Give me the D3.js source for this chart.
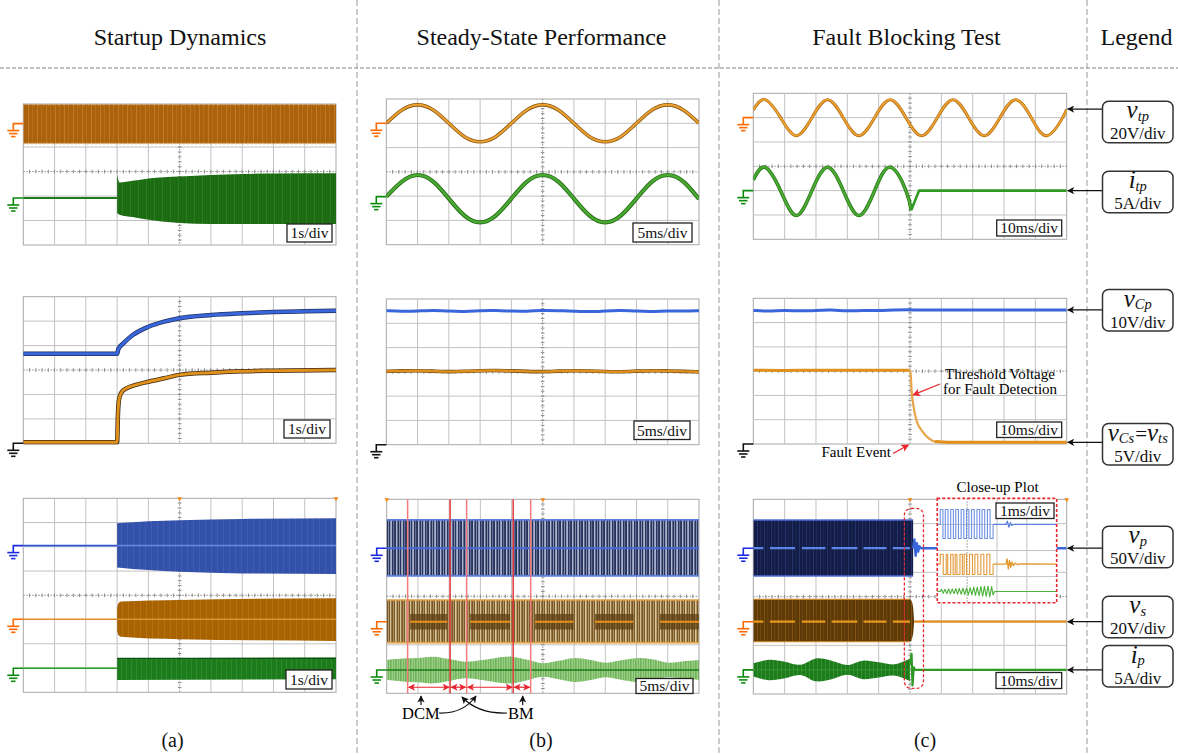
<!DOCTYPE html>
<html>
<head>
<meta charset="utf-8">
<script src="https://cdn.jsdelivr.net/npm/d3@7/dist/d3.min.js"></script>
<style>
  body { margin: 0; background: #fff; }
  svg text { font-family: "Liberation Serif", "Times New Roman", serif; }
</style>
</head>
<body>
<div id="fig"></div>
<script>
// trace values are in scope divisions: x = 0..10 across, y = divisions above the bottom edge

// ---- (a) startup dynamics ----
const a1OrangeBand = [[0, 4.15, 5.74], [10, 4.15, 5.74]];
const a1GreenFlat = [[0, 1.92], [3, 1.92]];
const a1GreenBand = [[3, 1.30, 2.89], [3.08, 1.24, 2.55], [3.5, 1.14, 2.62], [4, 1.03, 2.72], [5, 0.90, 2.80], [6, 0.86, 2.86], [8, 0.86, 2.92], [10, 0.86, 2.93]];
const a1Zero = [4.96, 1.92];

const a2Blue = [[0, 3.66], [3, 3.66], [3.04, 3.86], [3.2, 4.09], [3.5, 4.43], [4, 4.77], [4.5, 4.98], [5, 5.12], [6, 5.25], [7, 5.32], [8, 5.37], [9, 5.4], [10, 5.43]];
const a2Orange = [[0, 0.04], [3, 0.04], [3.03, 1.3], [3.07, 1.85], [3.15, 2.1], [3.3, 2.25], [3.6, 2.39], [4, 2.52], [4.5, 2.66], [5, 2.8], [6, 2.89], [7, 2.95], [8, 2.97], [10, 3.0]];

const a3Zero = [6.05, 3.01, 0.99];
const a3BlueBand = [[3, 5.15, 6.97], [4, 5.04, 7.05], [5, 4.97, 7.1], [7, 4.9, 7.15], [10, 4.88, 7.18]];
const a3OrangeBand = [[3, 2.55, 3.47], [3.03, 2.38, 3.64], [3.12, 2.29, 3.74], [5, 2.19, 3.81], [10, 2.12, 3.88]];
const a3GreenBand = [[3, 0.51, 1.4], [10, 0.54, 1.44]];

// ---- (b) steady state ----
const bTime = [0, 0.5, 1, 1.5, 2, 2.5, 3, 3.5, 4, 4.5, 5, 5.5, 6, 6.5, 7, 7.5, 8, 8.5, 9, 9.5, 10];
const b1Orange = [5.0, 5.55, 5.76, 5.55, 5.0, 4.45, 4.24, 4.45, 5.0, 5.55, 5.76, 5.55, 5.0, 4.45, 4.24, 4.45, 5.0, 5.55, 5.76, 5.55, 5.0];
const b1Green = [1.98, 2.6, 2.87, 2.6, 1.9, 1.2, 0.92, 1.2, 1.9, 2.6, 2.87, 2.6, 1.9, 1.2, 0.92, 1.2, 1.9, 2.6, 2.87, 2.6, 1.88];
const b1Zero = [5.0, 1.98];
const b2Blue = [5.52, 5.49, 5.5, 5.54, 5.5, 5.48, 5.52, 5.53, 5.5, 5.49, 5.54, 5.52, 5.5, 5.47, 5.51, 5.53, 5.5, 5.48, 5.52, 5.5, 5.52];
const b2Orange = [3.02, 3.04, 3.05, 3.03, 3.0, 3.02, 3.05, 3.06, 3.04, 3.02, 3.0, 3.03, 3.05, 3.04, 3.01, 3.0, 3.03, 3.05, 3.04, 3.02, 3.0];
const b3BlueLevels = [4.84, 5.98, 7.15];
const b3OrangeLevels = [2.09, 2.95, 3.85];
const b3BurstSpans = [[0.75, 1.94], [2.67, 3.95], [4.75, 5.98], [6.67, 7.9], [8.75, 10]];
const b3GreenMid = 0.96;
const b3GreenAmp = [0.41, 0.47, 0.5, 0.55, 0.45, 0.34, 0.4, 0.5, 0.55, 0.42, 0.28, 0.38, 0.49, 0.42, 0.3, 0.4, 0.49, 0.44, 0.3, 0.36, 0.41];
const b3RedLines = [0.67, 2.03, 2.56, 4.05, 4.61];
const b3ModeSpans = [[0.67, 2.03], [2.03, 2.56], [2.56, 4.05], [4.05, 4.61]];

// ---- (c) fault blocking ----
const c1Orange = [[0, 5.31], [0.37, 5.74], [0.87, 5.0], [1.37, 4.26], [1.87, 5.0], [2.37, 5.74], [2.87, 5.0], [3.37, 4.26], [3.87, 5.0], [4.37, 5.74], [4.87, 5.0], [5.37, 4.26], [5.87, 5.0], [6.37, 5.74], [6.87, 5.0], [7.37, 4.26], [7.87, 5.0], [8.37, 5.74], [8.87, 5.0], [9.37, 4.26], [9.87, 5.0], [10, 5.35]];
const c1GreenAc = [[0, 2.44], [0.37, 2.96], [0.87, 2.0], [1.37, 0.98], [1.87, 2.0], [2.37, 2.96], [2.87, 2.0], [3.37, 0.98], [3.87, 2.0], [4.37, 2.96], [4.87, 2.0], [5.04, 1.2]];
const c1GreenOff = [[5.04, 1.2], [5.29, 2.0], [10, 2.0]];
const c1Zero = [5.0, 2.0];
const c2Blue = [[0, 5.5], [0.5, 5.46], [1, 5.52], [1.5, 5.47], [2, 5.5], [2.5, 5.53], [3, 5.47], [3.5, 5.51], [4, 5.48], [4.5, 5.53], [5, 5.52], [10, 5.52]];
const c2Orange = [[0, 3.04], [1, 3.02], [2, 3.05], [3, 3.03], [4, 3.04], [4.98, 3.04], [5.02, 2.9], [5.05, 2.2], [5.1, 1.65], [5.2, 1.0], [5.4, 0.51], [5.6, 0.23], [5.8, 0.1], [6.2, 0.07], [10, 0.07]];
const c3BlueLevels = [4.85, 5.99, 7.15];
const c3BlueRing = [[5.1, 5.99], [5.14, 6.35], [5.18, 5.68], [5.22, 6.2], [5.26, 5.85], [5.3, 6.07], [5.35, 5.99], [10, 5.99]];
const c3OrangeBand = [[0, 2.15, 3.89], [5.0, 2.15, 3.89], [5.07, 2.3, 3.75], [5.11, 2.6, 3.4], [5.13, 2.97, 2.97]];
const c3OrangeMid = 2.97;
const c3CenterDashes = [[0, 0.32], [0.53, 1.33], [1.55, 2.3], [2.5, 3.32], [3.52, 4.25], [4.45, 5.0]];
const c3GreenMid = 0.99;
const c3GreenTime = [0, 0.5, 1, 1.5, 2, 2.5, 3, 3.5, 4, 4.5, 5];
const c3GreenAmp = [0.27, 0.42, 0.34, 0.21, 0.47, 0.38, 0.2, 0.38, 0.31, 0.23, 0.46];
const c3GreenTail = [[5.0, 1.2], [5.05, 1.65], [5.08, 0.35], [5.12, 1.1], [5.16, 0.99], [10, 0.99]];
const c3FaultWindow = [4.82, 5.43, 0.23, 7.63];
const c3InsetArea = [5.87, 9.68, 3.75, 8.04];

// close-up inset (1ms/div, x 0..4, y 0..4)
const insBlueLevels = [2.46, 3.0, 3.57];
const insBlueEdges = [0.1, 0.19, 0.27, 0.36, 0.45, 0.54, 0.62, 0.71, 0.8, 0.89, 0.98, 1.06, 1.15, 1.24, 1.33, 1.42, 1.5, 1.59, 1.68, 1.77, 1.87];
const insBlueRing = [[1.87, 3.0], [2.3, 3.0], [2.35, 3.12], [2.4, 2.9], [2.45, 3.07], [2.5, 2.96], [2.55, 3.0], [4, 3.0]];
const insOrangeLevels = [1.08, 1.48, 1.86];
const insOrangeEdges = [0.1, 0.2, 0.3, 0.35, 0.45, 0.53, 0.6, 0.66, 0.76, 0.84, 0.9, 0.98, 1.08, 1.18, 1.26, 1.36, 1.46, 1.56, 1.66, 1.76, 1.87];
const insOrangeRing = [[1.87, 1.48], [2.3, 1.48], [2.34, 1.68], [2.38, 1.3], [2.42, 1.62], [2.46, 1.36], [2.5, 1.56], [2.55, 1.42], [2.6, 1.52], [2.7, 1.46], [2.8, 1.49], [4, 1.48]];
const insGreen = [[0, 0.43], [0.1, 0.43], [0.14, 0.52], [0.2, 0.36], [0.26, 0.52], [0.32, 0.35], [0.38, 0.53], [0.44, 0.34], [0.5, 0.53], [0.56, 0.35], [0.62, 0.54], [0.68, 0.33], [0.74, 0.55], [0.8, 0.32], [0.86, 0.56], [0.92, 0.31], [0.98, 0.56], [1.04, 0.3], [1.1, 0.58], [1.16, 0.3], [1.22, 0.6], [1.28, 0.28], [1.34, 0.6], [1.4, 0.27], [1.46, 0.62], [1.52, 0.25], [1.58, 0.63], [1.64, 0.24], [1.7, 0.64], [1.76, 0.22], [1.82, 0.62], [1.87, 0.3], [1.92, 0.43], [4, 0.43]];

// ---- text ----
const titles = ['Startup Dynamics', 'Steady-State Performance', 'Fault Blocking Test', 'Legend'];
const subLabels = ['(a)', '(b)', '(c)'];
const divLabels = ['1s/div', '5ms/div', '10ms/div'];
const legendSymbols = [
  [['v', 'm'], ['tp', 's']],
  [['i', 'm'], ['tp', 's']],
  [['v', 'm'], ['Cp', 's']],
  [['v', 'm'], ['Cs', 's'], ['=', 'n'], ['v', 'm'], ['ts', 's']],
  [['v', 'm'], ['p', 's']],
  [['v', 'm'], ['s', 's']],
  [['i', 'm'], ['p', 's']]
];
const legendUnits = ['20V/div', '5A/div', '10V/div', '5V/div', '50V/div', '20V/div', '5A/div'];

// ---- layout ----
const layout = {
  a1: { id: 'a1', left: 23.3, right: 336, top: 104, bottom: 245, rows: 5.76, mid: 3 },
  a2: { id: 'a2', left: 23.3, right: 336, top: 296.7, bottom: 443.3, rows: 6, mid: 3 },
  a3: { id: 'a3', left: 23.3, right: 336, top: 498.3, bottom: 692.3, rows: 8, mid: 4 },
  b1: { id: 'b1', left: 386.3, right: 699, top: 99, bottom: 244.7, rows: 6, mid: 3 },
  b2: { id: 'b2', left: 386.3, right: 699, top: 299, bottom: 444.7, rows: 6, mid: 3 },
  b3: { id: 'b3', left: 386.7, right: 699, top: 499.3, bottom: 693.3, rows: 8, mid: 4 },
  c1: { id: 'c1', left: 753.3, right: 1066.7, top: 93.3, bottom: 239.3, rows: 6, mid: 3 },
  c2: { id: 'c2', left: 753.3, right: 1066.7, top: 298.3, bottom: 444, rows: 6, mid: 3 },
  c3: { id: 'c3', left: 753.3, right: 1066.7, top: 499.3, bottom: 694, rows: 8, mid: 4 }
};
const divBoxes = {
  a1: [287, 224, 45, 18], a2: [284, 420, 46, 18], a3: [286, 670, 46, 19],
  b1: [633, 223, 59, 19], b2: [634, 421, 56, 18.5], b3: [636, 678.5, 57, 15],
  c1: [996.7, 220, 65, 16], c2: [996.7, 422, 65, 15.5], c3: [996, 672.5, 65.7, 16]
};
const legendTops = [101.2, 171.2, 289.5, 423.5, 526.2, 596.2, 645.5];

const svg = d3.select('#fig').append('svg').attr('width', 1178).attr('height', 754);
const defs = svg.append('defs');

function stripes(id, base, light, w, lines) {
  const p = defs.append('pattern').attr('id', id)
    .attr('patternUnits', 'userSpaceOnUse').attr('width', w).attr('height', 8);
  p.append('rect').attr('width', w).attr('height', 8).attr('fill', base);
  lines.forEach(function(l) {
    p.append('rect').attr('x', l[0]).attr('width', l[1]).attr('height', 8)
      .attr('fill', light).attr('opacity', l[2]);
  });
}
stripes('a1o', '#ac620c', '#dc9d50', 9, [[1, 0.8, 0.5], [5, 0.6, 0.35]]);
stripes('a1g', '#1c6b12', '#3a9a2c', 8, [[2, 0.8, 0.5], [6, 0.5, 0.3]]);
stripes('a3b', '#3351a8', '#4a6ac8', 6, [[1, 1, 0.5]]);
stripes('a3o', '#a86200', '#c98a30', 6, [[2, 1, 0.4]]);
stripes('a3g', '#1d7a1d', '#3aa030', 5, [[1, 1, 0.5]]);
stripes('b3b', '#27345e', '#c8d0e6', 11, [[0, 1.4, 0.85], [3, 0.8, 0.7], [5.2, 1.8, 0.8], [8.4, 0.7, 0.6]]);
stripes('b3o', '#7a5826', '#ecdcb4', 10, [[0, 1.3, 0.8], [3.2, 0.7, 0.6], [5, 1.6, 0.85], [8, 0.8, 0.6]]);
stripes('b3g', '#9ccf86', '#2c8a1e', 5, [[0.5, 0.8, 0.8], [3, 0.6, 0.6]]);
stripes('c3b', '#131c46', '#3a4d92', 7, [[1, 0.8, 0.6], [4.5, 0.6, 0.4]]);
stripes('c3o', '#5c3906', '#a8701e', 7, [[1, 0.8, 0.6], [4.5, 0.6, 0.4]]);
stripes('c3g', '#1d7a1d', '#46a838', 4, [[1, 0.9, 0.6]]);

function marker(id, color) {
  defs.append('marker').attr('id', id)
    .attr('viewBox', '0 0 10 10').attr('refX', 9).attr('refY', 5)
    .attr('markerWidth', 8).attr('markerHeight', 6).attr('orient', 'auto')
    .append('path').attr('d', 'M0,0 L10,5 L0,10 L2.5,5 z').attr('fill', color);
}
marker('ahk', '#111');
marker('ahr', '#e8262e');

// separators
[357, 719, 1087].forEach(function(x) {
  svg.append('line').attr('x1', x).attr('x2', x).attr('y1', 0).attr('y2', 754)
    .attr('stroke', '#9b9b9b').attr('stroke-width', 1).attr('stroke-dasharray', '6,3');
});
svg.append('line').attr('x1', 0).attr('x2', 1178).attr('y1', 68).attr('y2', 68)
  .attr('stroke', '#aaa').attr('stroke-width', 1.6).attr('stroke-dasharray', '4,2');

svg.selectAll('.title').data(titles).enter().append('text')
  .attr('x', function(d, i) { return [180, 541.5, 906.5, 1136.5][i]; })
  .attr('y', 45).attr('text-anchor', 'middle').attr('font-size', 24).attr('fill', '#111')
  .text(function(d) { return d; });
svg.selectAll('.sub').data(subLabels).enter().append('text')
  .attr('x', function(d, i) { return [172.5, 541, 925][i]; })
  .attr('y', 747).attr('text-anchor', 'middle').attr('font-size', 20).attr('fill', '#111')
  .text(function(d) { return d; });

function panel(p) {
  const x = d3.scaleLinear().domain([0, 10]).range([p.left, p.right]);
  const y = d3.scaleLinear().domain([0, p.rows]).range([p.bottom, p.top]);
  const g = svg.append('g');
  defs.append('clipPath').attr('id', 'clip-' + p.id).append('rect')
    .attr('x', p.left).attr('y', p.top - 1.5)
    .attr('width', p.right - p.left).attr('height', p.bottom - p.top + 3);
  g.append('rect').attr('x', p.left).attr('y', p.top)
    .attr('width', p.right - p.left).attr('height', p.bottom - p.top)
    .attr('fill', '#fff').attr('stroke', '#a8a8a8').attr('stroke-width', 1);
  const grid = g.append('g').attr('stroke', '#c2c2c2').attr('stroke-width', 1);
  grid.selectAll('.v').data([1, 2, 3, 4, 6, 7, 8, 9]).enter().append('line')
    .attr('x1', x).attr('x2', x).attr('y1', p.top).attr('y2', p.bottom);
  grid.selectAll('.h').data(d3.range(1, Math.ceil(p.rows)).filter(function(r) { return r !== p.mid; }))
    .enter().append('line')
    .attr('x1', p.left).attr('x2', p.right).attr('y1', y).attr('y2', y);
  // centre cross, dotted with minor ticks
  const cc = g.append('g').attr('stroke', '#8c8c8c').attr('stroke-width', 1);
  cc.append('line').attr('x1', x(5)).attr('x2', x(5)).attr('y1', p.top).attr('y2', p.bottom)
    .attr('stroke-dasharray', '1.5,1.5');
  cc.append('line').attr('x1', p.left).attr('x2', p.right).attr('y1', y(p.mid)).attr('y2', y(p.mid))
    .attr('stroke-dasharray', '1.5,1.5');
  cc.selectAll('.tx').data(d3.range(0.2, 10, 0.2)).enter().append('line')
    .attr('x1', x).attr('x2', x).attr('y1', y(p.mid) - 1.8).attr('y2', y(p.mid) + 1.8);
  cc.selectAll('.ty').data(d3.range(0.2, p.rows, 0.2)).enter().append('line')
    .attr('y1', y).attr('y2', y).attr('x1', x(5) - 1.8).attr('x2', x(5) + 1.8);
  const t = g.append('g').attr('clip-path', 'url(#clip-' + p.id + ')');
  return { x: x, y: y, g: g, t: t, p: p };
}

function trace(P, pts, color, w, curve, parent) {
  return (parent || P.t).append('path').datum(pts)
    .attr('d', d3.line().x(function(d) { return P.x(d[0]); }).y(function(d) { return P.y(d[1]); })
      .curve(curve || d3.curveLinear))
    .attr('fill', 'none').attr('stroke', color).attr('stroke-width', w)
    .attr('stroke-linejoin', 'round');
}
function band(P, pts, fill, curve) {
  return P.t.append('path').datum(pts)
    .attr('d', d3.area().x(function(d) { return P.x(d[0]); })
      .y0(function(d) { return P.y(d[1]); }).y1(function(d) { return P.y(d[2]); })
      .curve(curve || d3.curveLinear))
    .attr('fill', fill);
}
function hline(P, x0, x1, v, color, w, dash) {
  return P.t.append('line').attr('x1', P.x(x0)).attr('x2', P.x(x1)).attr('y1', P.y(v)).attr('y2', P.y(v))
    .attr('stroke', color).attr('stroke-width', w).attr('stroke-dasharray', dash || null);
}
function ground(P, level, color) {
  const yy = P.y(level), x0 = P.x(0), sx = x0 - 10;
  const gg = P.g.append('g').attr('stroke', color).attr('stroke-width', 1.6).attr('fill', 'none');
  gg.append('path').attr('d', 'M' + x0 + ',' + yy + 'H' + sx + 'V' + (yy + 7));
  [[7, 6], [10, 4.2], [13, 2.2]].forEach(function(b) {
    gg.append('line').attr('x1', sx - b[1]).attr('x2', sx + b[1]).attr('y1', yy + b[0]).attr('y2', yy + b[0]);
  });
}
function divBox(r, label) {
  svg.append('rect').attr('x', r[0]).attr('y', r[1]).attr('width', r[2]).attr('height', r[3])
    .attr('fill', '#fff').attr('stroke', '#222').attr('stroke-width', 1.3);
  svg.append('text').attr('x', r[0] + r[2] / 2).attr('y', r[1] + r[3] / 2 + 5.3)
    .attr('text-anchor', 'middle').attr('font-size', 15.5).attr('fill', '#111').text(label);
}
function trigger(P, xs) {
  P.g.selectAll('.trig').data(xs).enter().append('path')
    .attr('d', function(d) { const cx = P.x(d), ty = P.p.top; return 'M' + (cx - 2.5) + ',' + (ty - 1) + 'L' + (cx + 2.5) + ',' + (ty - 1) + 'L' + cx + ',' + (ty + 3) + 'Z'; })
    .attr('fill', '#f08a1a');
}
function zip(xs, ys) { return xs.map(function(x, i) { return [x, ys[i]]; }); }

const ORANGE_G = '#ff6a00', GREEN_G = '#0a8a0a', BLUE_G = '#1a2ae0';

// ---------- (a) ----------
let P = panel(layout.a1);
band(P, a1OrangeBand, 'url(#a1o)');
hline(P, 0, 10, a1OrangeBand[0][1], '#e2a868', 2, '1,3');
hline(P, 0, 10, a1OrangeBand[0][2], '#e2a868', 2, '1,4');
trace(P, a1GreenFlat, '#1f7a1a', 2);
band(P, a1GreenBand, 'url(#a1g)', d3.curveMonotoneX);
ground(P, a1Zero[0], ORANGE_G);
ground(P, a1Zero[1], GREEN_G);
divBox(divBoxes.a1, divLabels[0]);

P = panel(layout.a2);
trace(P, a2Blue, '#1f2f60', 4.5, d3.curveMonotoneX);
trace(P, a2Blue, '#3a66dc', 3, d3.curveMonotoneX);
trace(P, a2Orange, '#3a2a10', 4.5, d3.curveMonotoneX);
trace(P, a2Orange, '#e0901c', 3, d3.curveMonotoneX);
ground(P, 0, '#111');
divBox(divBoxes.a2, divLabels[0]);

P = panel(layout.a3);
trace(P, [[0, a3Zero[0]], [3, a3Zero[0]]], '#2f52d0', 1.6);
band(P, a3BlueBand, 'url(#a3b)', d3.curveMonotoneX);
hline(P, 3, 10, a3Zero[0], '#6a88e0', 1.5);
trace(P, [[0, a3Zero[1]], [3, a3Zero[1]]], '#e0902a', 1.6);
band(P, a3OrangeBand, 'url(#a3o)', d3.curveMonotoneX);
hline(P, 3, 10, a3Zero[1], '#d8923a', 1.5);
trace(P, [[0, a3Zero[2]], [3, a3Zero[2]]], '#22a022', 1.6);
band(P, a3GreenBand, 'url(#a3g)');
hline(P, 3, 10, a3GreenBand[0][2], '#0f4f10', 1.2);
trigger(P, [5, 10]);
ground(P, a3Zero[0], BLUE_G);
ground(P, a3Zero[1], ORANGE_G);
ground(P, a3Zero[2], GREEN_G);
divBox(divBoxes.a3, divLabels[0]);

// ---------- (b) ----------
P = panel(layout.b1);
trace(P, zip(bTime, b1Orange), '#8a5a14', 3.6, d3.curveNatural);
trace(P, zip(bTime, b1Orange), '#eba030', 2, d3.curveNatural);
trace(P, zip(bTime, b1Green), '#2a6e1a', 4.2, d3.curveNatural);
trace(P, zip(bTime, b1Green), '#48aa30', 2.4, d3.curveNatural);
ground(P, b1Zero[0], ORANGE_G);
ground(P, b1Zero[1], GREEN_G);
divBox(divBoxes.b1, divLabels[1]);

P = panel(layout.b2);
trace(P, zip(bTime, b2Blue), '#3a66dc', 3, d3.curveBasis);
trace(P, zip(bTime, b2Orange), '#6a4a18', 3.6, d3.curveBasis);
trace(P, zip(bTime, b2Orange), '#e0901c', 2.4, d3.curveBasis);
ground(P, 0, '#111');
divBox(divBoxes.b2, divLabels[1]);

P = panel(layout.b3);
band(P, [[0, b3BlueLevels[0], b3BlueLevels[2]], [10, b3BlueLevels[0], b3BlueLevels[2]]], 'url(#b3b)');
hline(P, 0, 10, b3BlueLevels[0], '#5c7ee0', 1.8);
hline(P, 0, 10, b3BlueLevels[2], '#5c7ee0', 1.8);
hline(P, 0, 10, b3BlueLevels[1], '#4a6ad8', 2);
band(P, [[0, b3OrangeLevels[0], b3OrangeLevels[2]], [10, b3OrangeLevels[0], b3OrangeLevels[2]]], 'url(#b3o)');
hline(P, 0, 10, b3OrangeLevels[0], '#e0a040', 1.6);
hline(P, 0, 10, b3OrangeLevels[2], '#e0a040', 1.6);
b3BurstSpans.forEach(function(s) {
  P.t.append('rect').attr('x', P.x(s[0])).attr('width', P.x(s[1]) - P.x(s[0]))
    .attr('y', P.y(b3OrangeLevels[1] + 0.32)).attr('height', P.y(b3OrangeLevels[1] - 0.32) - P.y(b3OrangeLevels[1] + 0.32))
    .attr('fill', '#5a3a10').attr('opacity', 0.7);
  hline(P, s[0], s[1], b3OrangeLevels[1], '#e8921c', 2.2);
});
const b3Green = bTime.map(function(t, i) { return [t, b3GreenMid - b3GreenAmp[i], b3GreenMid + b3GreenAmp[i]]; });
band(P, b3Green, 'url(#b3g)', d3.curveCatmullRom);
hline(P, 0, 10, b3GreenMid, '#1e7a18', 1.6);
trigger(P, [0, 5]);
ground(P, b3BlueLevels[1], BLUE_G);
ground(P, b3OrangeLevels[1], ORANGE_G);
ground(P, b3GreenMid, GREEN_G);
divBox(divBoxes.b3, divLabels[1]);
// mode boundaries and spans
P.g.selectAll('.red').data(b3RedLines).enter().append('line')
  .attr('x1', P.x).attr('x2', P.x).attr('y1', P.p.top).attr('y2', P.p.bottom)
  .attr('stroke', function(d, i) { return i % 2 ? '#e23a3a' : '#f37b7b'; }).attr('stroke-width', 1.5);
P.g.selectAll('.span').data(b3ModeSpans).enter().append('line')
  .attr('x1', function(d) { return P.x(d[0]) + 1; }).attr('x2', function(d) { return P.x(d[1]) - 1; })
  .attr('y1', P.y(0.25)).attr('y2', P.y(0.25))
  .attr('stroke', '#e8262e').attr('stroke-width', 1.2)
  .attr('marker-start', 'url(#ahr)').attr('marker-end', 'url(#ahr)');
defs.select('#ahr').attr('orient', 'auto-start-reverse');
const ann = svg.append('g').attr('fill', 'none').attr('stroke', '#111').attr('stroke-width', 1.2);
ann.append('path').attr('d', 'M421,705 V696').attr('marker-end', 'url(#ahk)');
ann.append('path').attr('d', 'M522.7,705 V696').attr('marker-end', 'url(#ahk)');
ann.append('path').attr('d', 'M439,713 Q463,714 476,696').attr('marker-end', 'url(#ahk)');
ann.append('path').attr('d', 'M507,713 Q478,714 462,697').attr('marker-end', 'url(#ahk)');
svg.append('text').attr('x', 420.8).attr('y', 718.5).attr('text-anchor', 'middle').attr('font-size', 16.5).text('DCM');
svg.append('text').attr('x', 520.8).attr('y', 718.5).attr('text-anchor', 'middle').attr('font-size', 16.5).text('BM');

// ---------- (c) ----------
const C = {};
P = panel(layout.c1); C.c1 = P;
trace(P, c1Orange, '#b06a10', 3, d3.curveNatural);
trace(P, c1Orange, '#eda232', 1.8, d3.curveNatural);
trace(P, c1GreenAc, '#2a7a1a', 3.6, d3.curveNatural);
trace(P, c1GreenAc, '#4aaa32', 2, d3.curveNatural);
trace(P, c1GreenOff, '#2e9a22', 2.6);
ground(P, c1Zero[0], ORANGE_G);
ground(P, c1Zero[1], GREEN_G);
divBox(divBoxes.c1, divLabels[2]);

P = panel(layout.c2); C.c2 = P;
trace(P, c2Blue, '#3a66dc', 3, d3.curveBasis);
trace(P, c2Orange.slice(0, 6), '#e0901c', 3, d3.curveBasis);
trace(P, c2Orange.slice(5), '#e8a448', 2.2, d3.curveMonotoneX);
trace(P, c2Orange.slice(12), '#e0901c', 3);
ground(P, 0, '#111');
divBox(divBoxes.c2, divLabels[2]);
svg.append('text').attr('x', 1000).attr('y', 378.5).attr('text-anchor', 'middle').attr('font-size', 15).text('Threshold Voltage');
svg.append('text').attr('x', 1000).attr('y', 393.5).attr('text-anchor', 'middle').attr('font-size', 15).text('for Fault Detection');
svg.append('text').attr('x', 891).attr('y', 457).attr('text-anchor', 'end').attr('font-size', 15).text('Fault Event');
const red = svg.append('g').attr('fill', 'none').attr('stroke', '#e8262e').attr('stroke-width', 1.3);
red.append('path').attr('d', 'M940,384 L' + P.x(5.1) + ',' + P.y(2.02)).attr('marker-end', 'url(#ahr)');
red.append('path').attr('d', 'M893,453.5 L' + P.x(4.95) + ',' + (P.y(0) + 1)).attr('marker-end', 'url(#ahr)');

P = panel(layout.c3); C.c3 = P;
band(P, [[0, c3BlueLevels[0], c3BlueLevels[2]], [5.1, c3BlueLevels[0], c3BlueLevels[2]]], 'url(#c3b)');
hline(P, 0, 5.1, c3BlueLevels[0], '#4d6fd8', 1.4);
hline(P, 0, 5.1, c3BlueLevels[2], '#4d6fd8', 1.4);
trace(P, c3BlueRing, '#3a66dc', 2.4);
band(P, c3OrangeBand, 'url(#c3o)', d3.curveMonotoneX);
hline(P, 0, 5.0, c3OrangeBand[0][1], '#c8842a', 1.4);
hline(P, 0, 5.0, c3OrangeBand[0][2], '#c8842a', 1.4);
hline(P, 5.13, 10, c3OrangeMid, '#e0901c', 2.2);
c3CenterDashes.forEach(function(s) {
  hline(P, s[0], s[1], c3BlueLevels[1], '#5b86e8', 2.2);
  hline(P, s[0], s[1], c3OrangeMid, '#e8981e', 2.2);
});
const c3Green = c3GreenTime.map(function(t, i) { return [t, c3GreenMid - c3GreenAmp[i], c3GreenMid + c3GreenAmp[i]]; });
band(P, c3Green, 'url(#c3g)', d3.curveCatmullRom);
hline(P, 0, 5.0, c3GreenMid, '#3aa02e', 1.4, '2,1');
trace(P, c3GreenTail, '#2e9a22', 2.2);
trigger(P, [5, 10]);
ground(P, c3BlueLevels[1], BLUE_G);
ground(P, c3OrangeMid, ORANGE_G);
ground(P, c3GreenMid, GREEN_G);
divBox(divBoxes.c3, divLabels[2]);

// fault window and close-up inset
const fw = c3FaultWindow;
svg.append('rect').attr('x', P.x(fw[0])).attr('y', P.y(fw[3]))
  .attr('width', P.x(fw[1]) - P.x(fw[0])).attr('height', P.y(fw[2]) - P.y(fw[3]))
  .attr('rx', 7).attr('fill', 'none').attr('stroke', '#e8262e').attr('stroke-width', 1.3).attr('stroke-dasharray', '3,2');
red.append('path').attr('d', 'M926.7,538.5 L' + (P.x(c3InsetArea[0]) - 0.5) + ',530').attr('marker-end', 'url(#ahr)');

const ia = c3InsetArea;
const I = {
  x: d3.scaleLinear().domain([0, 4]).range([P.x(ia[0]), P.x(ia[1])]),
  y: d3.scaleLinear().domain([0, 4]).range([P.y(ia[2]), P.y(ia[3])])
};
I.t = svg.append('g');
I.t.append('rect').attr('x', I.x(0)).attr('y', I.y(4)).attr('width', I.x(4) - I.x(0)).attr('height', I.y(0) - I.y(4)).attr('fill', '#fff');
I.t.selectAll('.iv').data([1, 2, 3]).enter().append('line')
  .attr('x1', I.x).attr('x2', I.x).attr('y1', I.y(4)).attr('y2', I.y(0))
  .attr('stroke', function(d) { return d === 1 ? '#8c8c8c' : '#c2c2c2'; })
  .attr('stroke-dasharray', function(d) { return d === 1 ? '1.5,1.5' : null; });
I.t.selectAll('.ih').data([1, 2, 3]).enter().append('line')
  .attr('y1', I.y).attr('y2', I.y).attr('x1', I.x(0)).attr('x2', I.x(4)).attr('stroke', '#c2c2c2');
function squarePts(edges, levels) {
  const pts = [[0, levels[1]]];
  edges.forEach(function(e, i) {
    const last = i === edges.length - 1;
    pts.push([e, last ? levels[1] : (i % 2 === 0 ? levels[2] : levels[0])]);
  });
  return pts;
}
trace(I, squarePts(insBlueEdges, insBlueLevels), '#6f8fe0', 1.1, d3.curveStepAfter, I.t);
trace(I, insBlueRing, '#5a7ee0', 1.3, d3.curveLinear, I.t);
trace(I, squarePts(insOrangeEdges, insOrangeLevels), '#e29a3a', 1.1, d3.curveStepAfter, I.t);
trace(I, insOrangeRing, '#e0962c', 1.3, d3.curveLinear, I.t);
trace(I, insGreen, '#4cb23a', 1.1, d3.curveLinear, I.t);
I.t.append('rect').attr('x', I.x(0)).attr('y', I.y(4)).attr('width', I.x(4) - I.x(0)).attr('height', I.y(0) - I.y(4))
  .attr('fill', 'none').attr('stroke', '#e8262e').attr('stroke-width', 1.6).attr('stroke-dasharray', '3,2');
divBox([996, 503, 58, 15.5], '1ms/div');
svg.append('text').attr('x', 997.5).attr('y', 492).attr('text-anchor', 'middle').attr('font-size', 15).text('Close-up Plot');

// ---------- legend ----------
const legendTargets = [
  [C.c1, c1Orange[c1Orange.length - 1][1]],
  [C.c1, c1GreenOff[c1GreenOff.length - 1][1]],
  [C.c2, c2Blue[c2Blue.length - 1][1]],
  [C.c2, c2Orange[c2Orange.length - 1][1]],
  [C.c3, c3BlueLevels[1]],
  [C.c3, c3OrangeMid],
  [C.c3, c3GreenMid]
];
legendSymbols.forEach(function(sym, i) {
  const top = legendTops[i], bx = 1102.5, bw = 70.5;
  const tg = legendTargets[i];
  const ay = tg[0].y(tg[1]);
  svg.append('line').attr('x1', bx).attr('x2', tg[0].x(10) + 1).attr('y1', ay).attr('y2', ay)
    .attr('stroke', '#111').attr('stroke-width', 1.2).attr('marker-end', 'url(#ahk)');
  svg.append('rect').attr('x', bx).attr('y', top).attr('width', bw).attr('height', 41.5)
    .attr('rx', 6).attr('fill', '#fff').attr('stroke', '#333').attr('stroke-width', 1.5);
  const t = svg.append('text').attr('x', bx + bw / 2).attr('y', top + 17)
    .attr('text-anchor', 'middle').attr('fill', '#111');
  let shift = 0;
  sym.forEach(function(part) {
    const ts = t.append('tspan').text(part[0]);
    if (part[1] === 's') {
      ts.attr('font-size', 14.5).attr('font-style', 'italic').attr('dy', 2.5 - shift);
      shift = 2.5;
    } else {
      ts.attr('font-size', part[1] === 'm' ? 25 : 21)
        .attr('font-style', part[1] === 'm' ? 'italic' : null).attr('dy', -shift);
      if (part[1] === 'n') ts.attr('dx', 1);
      shift = 0;
    }
  });
  svg.append('text').attr('x', bx + bw / 2).attr('y', top + 38).attr('text-anchor', 'middle')
    .attr('font-size', 17).attr('fill', '#111').text(legendUnits[i]);
});
</script>
</body>
</html>
